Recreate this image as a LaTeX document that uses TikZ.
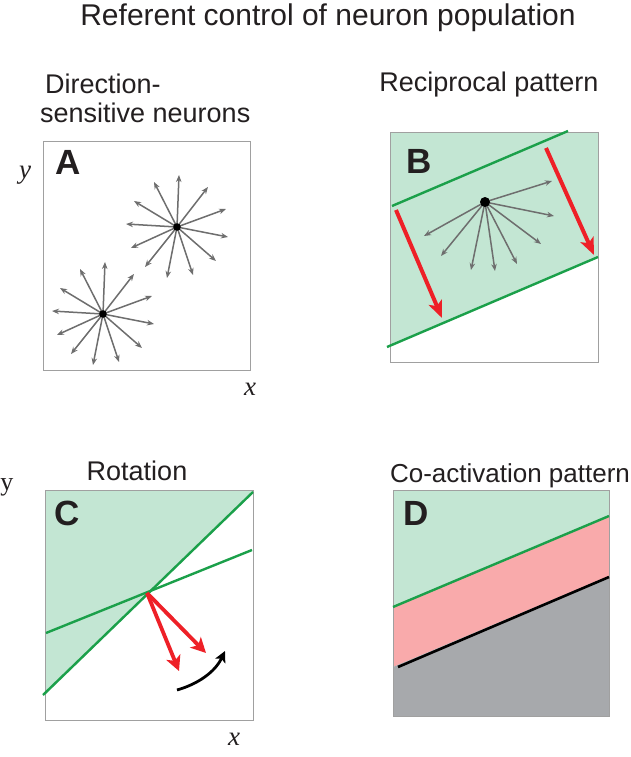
\documentclass[tikz,border=0pt]{standalone}
\usepackage{fontspec}
\setmainfont{Liberation Sans}
\newfontfamily\seriffont{Liberation Serif}
\usetikzlibrary{arrows.meta}
\definecolor{mint}{HTML}{C3E6D3}
\definecolor{lgreen}{HTML}{1BA04A}
\definecolor{rred}{HTML}{EE2027}
\definecolor{pinkr}{HTML}{F9AAAB}
\definecolor{grayf}{HTML}{A7A9AC}
\definecolor{arrgray}{HTML}{6E6E6E}
\definecolor{boxgray}{HTML}{A0A0A0}
\definecolor{txt}{HTML}{231F20}
\begin{document}
\begin{tikzpicture}[x=1pt,y=-1pt,
  box/.style={draw=boxgray,line width=0.8pt},
  ray/.style={draw=arrgray,line width=1.5pt,-{Stealth[length=7pt,width=5.5pt]}},
  bigred/.style={draw=rred,line width=4pt,-{Stealth[length=17pt,width=14pt,inset=4pt]}},
  medred/.style={draw=rred,line width=3.8pt,-{Stealth[length=15pt,width=15pt,inset=4pt]}},
  gline/.style={draw=lgreen,line width=2.4pt},
  dot/.style={fill=black},
  title/.style={font=\fontsize{30}{36}\selectfont,text=txt,inner sep=0,anchor=base},
  sub/.style={font=\fontsize{27}{32}\selectfont,text=txt,inner sep=0},
  plabel/.style={font=\fontsize{35}{40}\selectfont\bfseries,text=txt,inner sep=0,anchor=base west},
  axis/.style={font=\fontsize{27}{32}\selectfont\seriffont\itshape,text=txt,inner sep=0,anchor=base},
]
\useasboundingbox (0,0) rectangle (630,757);
\fill[white] (0,0) rectangle (630,757);

% ---------- titles ----------
\node[title] (t) at (328,26) {Referent control of neuron population};
\node[sub,anchor=base west] (ta1) at (45,94) {Direction-};
\node[sub,anchor=base west] (ta2) at (40,123) {sensitive neurons};
\node[sub,anchor=base] (tb) at (489,92) {Reciprocal pattern};
\node[sub,anchor=base] (tc) at (137,480) {Rotation};
\node[sub,anchor=base,font=\fontsize{26}{30}\selectfont] (td) at (510,482) {Co-activation pattern};

% ---------- Panel A ----------
\draw[box] (43,141) rectangle (250,370);
\node[plabel] (la) at (55,174) {A};
\node[axis] (ay) at (25,178) {y};
\node[axis] (ax) at (250,395) {x};
\coordinate (s1) at (177,227);
\coordinate (s2) at (103,314);
\foreach \c in {s1,s2}{
  \foreach \dx/\dy in {2/-52,-23/-45,31/-40,-43/-26,49/-18,-51/-3,51/10,-46/21,39/34,-32/40,-10/51,16/48}{
    \draw[ray] (\c) -- ++(\dx,\dy);
  }
  \fill[dot] (\c) circle (3.8);
}

% ---------- Panel B ----------
\fill[mint] (390,132) -- (598,132) -- (598,257) -- (390,346) -- cycle;
\draw[box] (390,132) rectangle (598,362);
\draw[gline] (387,347) -- (598,257);
\draw[gline] (392,206) -- (568,131);
\node[plabel] (lb) at (406,173) {B};
\coordinate (sb) at (485,202);
\foreach \dx/\dy in {67/-21,69/14,56/42,32/62,10/69,-14/68,-44/54,-61/34}{
  \draw[ray] (sb) -- ++(\dx,\dy);
}
\fill[dot] (sb) circle (5);
\coordinate (rb1s) at (396,210);
\coordinate (rb1e) at (442,318);
\coordinate (rb2s) at (546,148);
\coordinate (rb2e) at (594,255);
\draw[bigred] (rb1s) -- (rb1e);
\draw[bigred] (rb2s) -- (rb2e);

% ---------- Panel C ----------
\fill[mint] (45,490) -- (253,490) -- (253,492) -- (45,695) -- cycle;
\draw[box] (45,490) rectangle (253,720);
\draw[gline] (43,695) -- (253,492);
\draw[gline] (46,633) -- (252,550);
\node[plabel] (lc) at (54,525) {C};
\node[axis,font=\fontsize{26}{30}\selectfont\seriffont] (cy) at (7,490) {y};
\node[axis] (cx) at (234,745) {x};
\coordinate (pc) at (147,593);
\coordinate (rc1) at (179,671);
\coordinate (rc2) at (206,653);
\draw[medred] (pc) -- (rc1);
\draw[medred] (pc) -- (rc2);
\coordinate (bc1) at (177,690);
\coordinate (bc2) at (225,651);
\draw[line width=2.8pt,-{Stealth[length=11pt,width=11pt,inset=2.5pt]}] (bc1) .. controls (198,684) and (215,672) .. (bc2);

% ---------- Panel D ----------
\fill[mint] (393,490) -- (609,490) -- (609,516) -- (393,607) -- cycle;
\fill[pinkr] (393,607) -- (609,516) -- (609,576) -- (393,667) -- cycle;
\fill[grayf] (393,667) -- (609,576) -- (609,716) -- (393,716) -- cycle;
\draw[box] (393,490) rectangle (609,716);
\draw[gline] (393,607) -- (609,516);
\draw[line width=2.6pt] (398,667) -- (609,577);
\node[plabel] (ld) at (403,525) {D};
\end{tikzpicture}
\end{document}
